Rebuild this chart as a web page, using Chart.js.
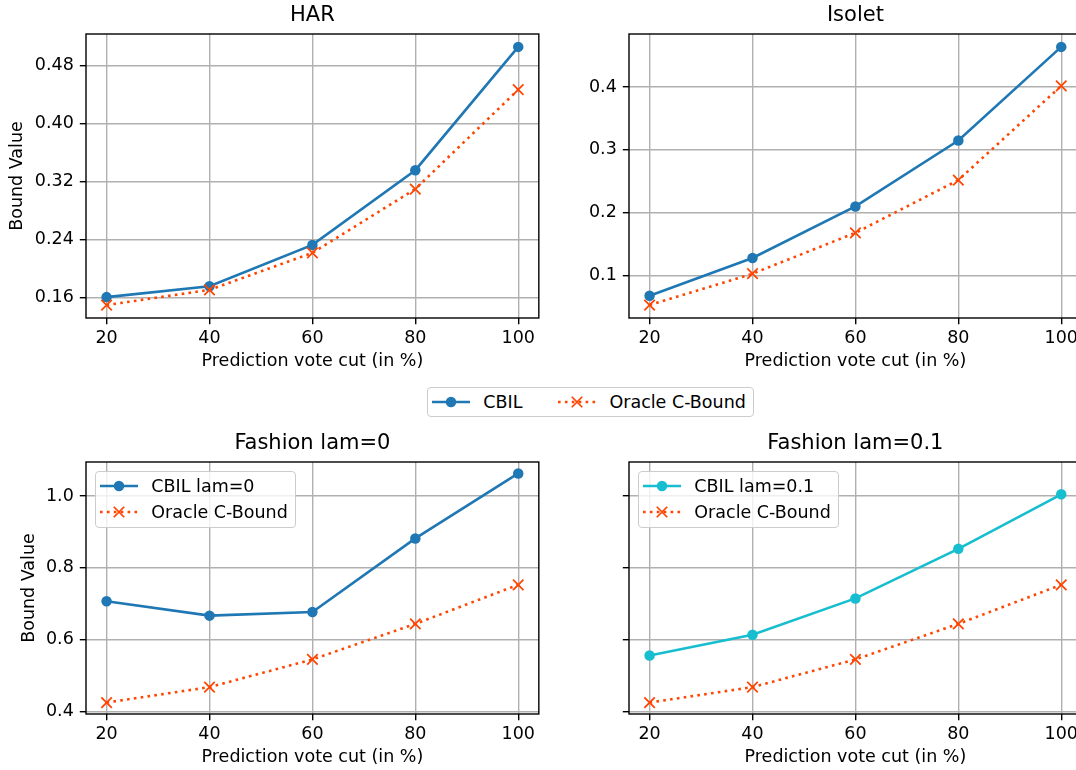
<!DOCTYPE html>
<html>
<head>
<meta charset="utf-8">
<title>Bound Value vs prediction vote cut</title>
<script src="https://cdn.jsdelivr.net/npm/chart.js@4.4.0/dist/chart.umd.min.js"></script>
<style>
  html, body { margin: 0; padding: 0; background: #fff; }
  body { width: 1076px; height: 770px; overflow: hidden; position: relative; font-family: 'DejaVu Sans', sans-serif; }
  canvas { position: absolute; }
  .legend { position: absolute; display: flex; box-sizing: border-box; background: rgba(255,255,255,0.8);
            border: 1.4px solid #cccccc; border-radius: 4px; font-size: 17.5px; line-height: 18px; color: #000; white-space: nowrap; }
  .legend.row { flex-direction: row; padding: 5.2px 7px 5.2px 4.3px; }
  .legend.col { flex-direction: column; gap: 8px; padding: 5.6px 7px 5.6px 4.6px; }
  .legend .item { display: flex; align-items: center; }
  .legend.row .item + .item { margin-left: 36px; }
  .legend svg { margin-right: 13px; display: block; }
</style>
</head>
<body>
<canvas id="har" width="548" height="380" style="left:0;top:0"></canvas>
<canvas id="isolet" width="546" height="380" style="left:545px;top:0"></canvas>
<canvas id="fashion0" width="548" height="350" style="left:0;top:420px"></canvas>
<canvas id="fashion01" width="546" height="350" style="left:545px;top:420px"></canvas>

<div class="legend row" id="legend-main" style="left:427px;top:387px"></div>
<div class="legend col" id="legend-f0" style="left:94.75px;top:470.75px"></div>
<div class="legend col" id="legend-f01" style="left:637.75px;top:470.75px"></div>

<script>
// Dados
const cuts = [20, 40, 60, 80, 100];
const xTicks = [20, 40, 60, 80, 100];

const harCbil = [0.161, 0.176, 0.233, 0.336, 0.506];
const harOracle = [0.150, 0.171, 0.222, 0.310, 0.447];
const harTicks = [0.16, 0.24, 0.32, 0.40, 0.48];

const isoletCbil = [0.068, 0.128, 0.210, 0.315, 0.464];
const isoletOracle = [0.053, 0.103, 0.168, 0.252, 0.402];
const isoletTicks = [0.1, 0.2, 0.3, 0.4];

const fashionCbilLam0 = [0.707, 0.667, 0.677, 0.882, 1.063];
const fashionCbilLam01 = [0.556, 0.614, 0.715, 0.853, 1.005];
const fashionOracle = [0.425, 0.468, 0.545, 0.644, 0.753];
const fashionTicks = [0.4, 0.6, 0.8, 1.0];

const BLUE = '#1f77b4';
const CYAN = '#17becf';
const ORANGE = '#ff4500';
const LW = 2.6;       // 1.5pt
const MS = 5.25;      // metade do markersize 6pt
const DOTS = [2.6, 4.3];

Chart.defaults.font.family = "'DejaVu Sans', sans-serif";
Chart.defaults.font.size = 17.5;
Chart.defaults.color = '#000';

// moldura preta em volta da área do gráfico (spines do matplotlib)
const spines = {
    id: 'spines',
    afterDraw(chart) {
        const { ctx, chartArea: a } = chart;
        ctx.save();
        ctx.strokeStyle = '#000';
        ctx.lineWidth = 1.4;
        ctx.strokeRect(a.left, a.top, a.right - a.left, a.bottom - a.top);
        ctx.restore();
    }
};

function pts(ys) {
    return cuts.map((x, i) => ({ x, y: ys[i] }));
}

// margem de 5% como o autoscale do matplotlib
function padRange(...series) {
    const all = [].concat(...series);
    const lo = Math.min(...all), hi = Math.max(...all);
    const m = (hi - lo) * 0.05;
    return [lo - m, hi + m];
}

function cbilSet(label, ys, color) {
    return {
        label, data: pts(ys), order: 1,
        borderColor: color, backgroundColor: color, borderWidth: LW,
        pointStyle: 'circle', pointRadius: MS, pointBorderWidth: 0,
        pointBackgroundColor: color, pointHoverRadius: MS
    };
}

function oracleSet(ys) {
    return {
        label: 'Oracle C-Bound', data: pts(ys), order: 0,
        borderColor: ORANGE, backgroundColor: ORANGE, borderWidth: LW,
        borderDash: DOTS, borderCapStyle: 'butt',
        pointStyle: 'crossRot', pointRadius: MS / Math.SQRT1_2,
        pointBorderColor: ORANGE, pointBorderWidth: 1.75, pointHoverRadius: MS / Math.SQRT1_2
    };
}

function makeChart(id, cfg) {
    const [ymin, ymax] = cfg.yRange;
    return new Chart(document.getElementById(id), {
        type: 'line',
        data: { datasets: cfg.datasets },
        options: {
            responsive: false,
            animation: false,
            events: [],
            layout: { padding: 0 },
            plugins: {
                legend: { display: false },
                tooltip: { enabled: false },
                title: {
                    display: true, text: cfg.title, fullSize: false, color: '#000',
                    font: { size: 21, weight: 'normal' },
                    padding: cfg.titlePad
                }
            },
            scales: {
                x: {
                    type: 'linear', min: 16, max: 104,
                    afterBuildTicks: s => { s.ticks = xTicks.map(v => ({ value: v })); },
                    afterFit: s => { s.height = cfg.xHeight; },
                    grid: { color: '#b0b0b0', lineWidth: 1.4, tickColor: '#000', tickWidth: 1.4, tickLength: 6.2 },
                    border: { display: false },
                    ticks: { padding: 4, maxRotation: 0, autoSkip: false, callback: v => String(v) },
                    title: { display: true, text: 'Prediction vote cut (in %)', padding: { top: 0, bottom: cfg.xTitlePad } }
                },
                y: {
                    type: 'linear', min: ymin, max: ymax,
                    afterBuildTicks: s => { s.ticks = cfg.yTicks.map(v => ({ value: v })); },
                    afterFit: s => { s.width = cfg.yWidth; },
                    grid: { color: '#b0b0b0', lineWidth: 1.4, tickColor: '#000', tickWidth: 1.4, tickLength: 6.2 },
                    border: { display: false },
                    ticks: { padding: 6, autoSkip: false, callback: v => cfg.yLabels ? v.toFixed(cfg.yDigits) : '' },
                    title: { display: !!cfg.yTitle, text: 'Bound Value', padding: { top: cfg.yTitlePad || 0, bottom: 0 } }
                }
            }
        },
        plugins: [spines]
    });
}

const topTitlePad = { top: 3.25, bottom: 5.55 };
const bottomTitlePad = { top: 11.25, bottom: 5.55 };
const fashionRange = padRange(fashionCbilLam0, fashionCbilLam01, fashionOracle);

makeChart('har', {
    title: 'HAR', titlePad: topTitlePad,
    datasets: [cbilSet('CBIL', harCbil, BLUE), oracleSet(harOracle)],
    yRange: padRange(harCbil, harOracle), yTicks: harTicks, yDigits: 2, yLabels: true,
    yTitle: true, yTitlePad: 7.1, yWidth: 86, xHeight: 62, xTitlePad: 8
});

makeChart('isolet', {
    title: 'Isolet', titlePad: topTitlePad,
    datasets: [cbilSet('CBIL', isoletCbil, BLUE), oracleSet(isoletOracle)],
    yRange: padRange(isoletCbil, isoletOracle), yTicks: isoletTicks, yDigits: 1, yLabels: true,
    yTitle: false, yWidth: 84, xHeight: 62, xTitlePad: 8
});

makeChart('fashion0', {
    title: 'Fashion lam=0', titlePad: bottomTitlePad,
    datasets: [cbilSet('CBIL lam=0', fashionCbilLam0, BLUE), oracleSet(fashionOracle)],
    yRange: fashionRange, yTicks: fashionTicks, yDigits: 1, yLabels: true,
    yTitle: true, yTitlePad: 18.8, yWidth: 86, xHeight: 56, xTitlePad: 2
});

makeChart('fashion01', {
    title: 'Fashion lam=0.1', titlePad: bottomTitlePad,
    datasets: [cbilSet('CBIL lam=0.1', fashionCbilLam01, CYAN), oracleSet(fashionOracle)],
    yRange: fashionRange, yTicks: fashionTicks, yDigits: 1, yLabels: false,
    yTitle: false, yWidth: 84, xHeight: 56, xTitlePad: 2
});

// Legendas no estilo matplotlib (amostra de linha + marcador)
function sample(kind, color) {
    const w = 38, h = 18, c = w / 2, m = h / 2;
    if (kind === 'solid') {
        return `<svg width="${w}" height="${h}"><line x1="0" y1="${m}" x2="${w}" y2="${m}" stroke="${color}" stroke-width="${LW}"/>` +
               `<circle cx="${c}" cy="${m}" r="${MS}" fill="${color}"/></svg>`;
    }
    return `<svg width="${w}" height="${h}"><line x1="0" y1="${m}" x2="${w}" y2="${m}" stroke="${color}" stroke-width="${LW}" stroke-dasharray="${DOTS.join(' ')}"/>` +
           `<path d="M${c - MS} ${m - MS}L${c + MS} ${m + MS}M${c - MS} ${m + MS}L${c + MS} ${m - MS}" stroke="${color}" stroke-width="1.75"/></svg>`;
}

function fillLegend(id, entries) {
    document.getElementById(id).innerHTML = entries
        .map(e => `<div class="item">${sample(e.kind, e.color)}<span>${e.label}</span></div>`)
        .join('');
}

fillLegend('legend-main', [
    { kind: 'solid', color: BLUE, label: 'CBIL' },
    { kind: 'dotted', color: ORANGE, label: 'Oracle C-Bound' }
]);
fillLegend('legend-f0', [
    { kind: 'solid', color: BLUE, label: 'CBIL lam=0' },
    { kind: 'dotted', color: ORANGE, label: 'Oracle C-Bound' }
]);
fillLegend('legend-f01', [
    { kind: 'solid', color: CYAN, label: 'CBIL lam=0.1' },
    { kind: 'dotted', color: ORANGE, label: 'Oracle C-Bound' }
]);
</script>
</body>
</html>
